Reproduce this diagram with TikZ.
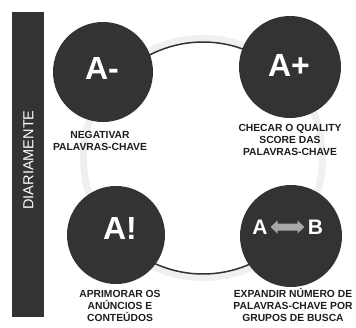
\documentclass[tikz,border=0pt]{standalone}
\usepackage{fontspec}
\setmainfont{Liberation Sans}
\definecolor{dk}{HTML}{333333}
\definecolor{ringc}{HTML}{F0F0F0}
\definecolor{lbl}{HTML}{1E1E1E}
\definecolor{arrc}{HTML}{A8A8A8}
\begin{document}
\begin{tikzpicture}[x=1pt,y=-1pt,
  disc/.style={circle,fill=dk,draw=none,inner sep=0pt,minimum size=#1},
  big/.style={text=white,font=\bfseries\fontsize{32}{32}\selectfont,inner sep=0pt},
  mid/.style={text=white,font=\bfseries\fontsize{21}{21}\selectfont,inner sep=0pt},
  lab/.style={text=lbl,align=center,inner sep=0pt,font=\bfseries\fontsize{10.3}{12}\selectfont},
  ringline/.style={draw=dk,line width=1.5pt}]
\useasboundingbox (0,0) rectangle (356,327);
\fill[white] (0,0) rectangle (356,327);
% ring
\coordinate (ctr) at (203,158);
\draw[ringc,line width=7pt] (ctr) circle[radius=119.5];
\draw[ringline] (ctr) ++(225:116) arc[start angle=225,end angle=315,radius=116];
\draw[ringline] (ctr) ++(45:116) arc[start angle=45,end angle=135,radius=116];
% side bar
\fill[dk] (12,12) rectangle (44,317);
\node[rotate=90,text=white,font=\fontsize{14.5}{14.5}\selectfont,inner sep=0pt] (bar) at (28.5,160) {DIARIAMENTE};
% discs
\node[disc=100pt] (c1) at (103,72) {};
\node[disc=102pt] (c2) at (290,67) {};
\node[disc=98pt] (c3) at (116,235) {};
\node[disc=102pt] (c4) at (291,236) {};
% symbols
\node[big] (t1) at (102,68) {A-};
\node[big] (t2) at (289,65) {A+};
\node[big] (t3) at (120,228) {A!};
\node[mid] (ta) at (260,227) {A};
\node[mid] (tb) at (315.5,227) {B};
\coordinate (arr) at (287.5,227);
\fill[arrc,shift={(arr)}] (-17,0) -- (-10,-6.5) -- (-10,-3.5) -- (10,-3.5) -- (10,-6.5) -- (17,0)
  -- (10,6.5) -- (10,3.5) -- (-10,3.5) -- (-10,6.5) -- cycle;
% labels
\node[lab] (l1) at (100,141) {NEGATIVAR\\PALAVRAS-CHAVE};
\node[lab] (l2) at (290,140) {CHECAR O QUALITY\\SCORE DAS\\PALAVRAS-CHAVE};
\node[lab] (l3) at (120,306) {APRIMORAR OS\\ANÚNCIOS E\\CONTEÚDOS};
\node[lab] (l4) at (293,305) {EXPANDIR NÚMERO DE\\PALAVRAS-CHAVE POR\\GRUPOS DE BUSCA};
\end{tikzpicture}
\end{document}
